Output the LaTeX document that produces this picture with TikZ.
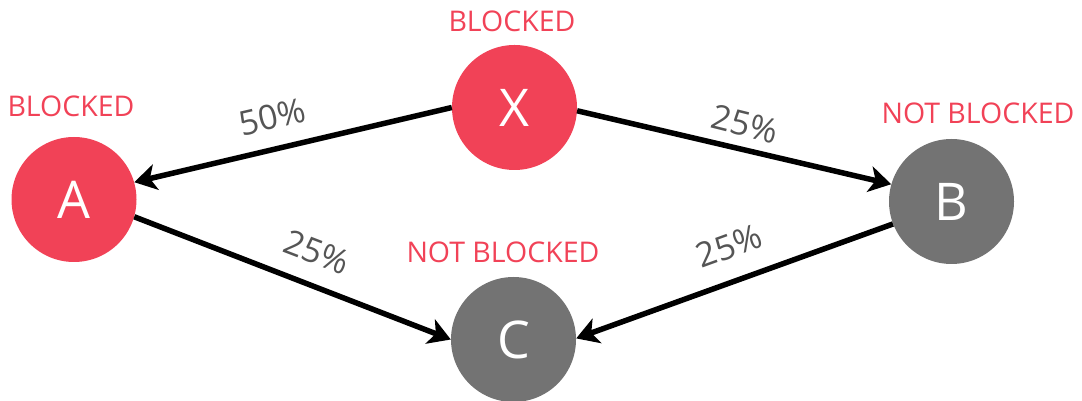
\documentclass[tikz,border=0pt]{standalone}
\usepackage{fontspec}
\setmainfont{Open Sans}
\usetikzlibrary{arrows.meta}
\definecolor{blockred}{HTML}{F14257}
\definecolor{freegray}{HTML}{737373}
\definecolor{pctgray}{HTML}{555555}
\tikzset{
  state/.style={circle, minimum size=125pt, inner sep=0pt, text=white,
    font=\fontsize{52}{52}\selectfont},
  blocked/.style={state, fill=blockred},
  free/.style={state, fill=freegray},
  status/.style={text=blockred, inner sep=0pt, font=\fontsize{28.5}{28.5}\selectfont},
  pct/.style={text=pctgray, inner sep=0pt, font=\fontsize{34}{34}\selectfont},
  flow/.style={line width=5.5pt, -{Stealth[length=22pt,width=26pt,inset=6pt]}}
}
\begin{document}
\begin{tikzpicture}[x=1pt,y=1pt]
  \useasboundingbox (0,0) rectangle (1082,401);
  % states
  \node[blocked] (X) at (514.5,293.5) {X};
  \node[blocked] (A) at (74,201.5) {A};
  \node[free]    (B) at (951.5,199.5) {B};
  \node[free]    (C) at (513.5,61.5) {C};
  % status captions
  \node[status] (sA) at (71,294.5) {BLOCKED};
  \node[status] (sX) at (512,380) {BLOCKED};
  \node[status] (sB) at (978,288) {NOT BLOCKED};
  \node[status] (sC) at (503,149) {NOT BLOCKED};
  % transitions
  \draw[flow] (X.180) -- (A.16);
  \draw[flow] (X.-3) -- (B.164);
  \draw[flow] (A.-16) -- (C.180);
  \draw[flow] (B.201) -- (C.1);
  % probabilities
  \node[pct, rotate=13]  (pXA) at (272,284) {50\%};
  \node[pct, rotate=-14] (pXB) at (745,277) {25\%};
  \node[pct, rotate=-21] (pAC) at (317,149) {25\%};
  \node[pct, rotate=20]  (pBC) at (729,155) {25\%};
\end{tikzpicture}
\end{document}
